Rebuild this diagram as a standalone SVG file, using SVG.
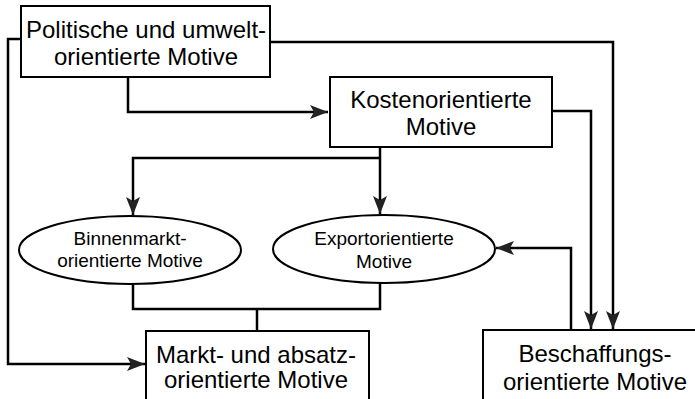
<svg xmlns="http://www.w3.org/2000/svg" width="695" height="399" viewBox="0 0 695 399">
<defs>
<marker id="arr" viewBox="0 0 18 14" refX="18" refY="7" markerWidth="18" markerHeight="14" markerUnits="userSpaceOnUse" orient="auto">
<path d="M0,0 L18,7 L0,14 L4,7 Z" fill="#222"/>
</marker>
<style>
.box{fill:#fff;stroke:#000;stroke-width:2}
.t{font-family:"Liberation Sans",Arial,sans-serif;font-size:24px;fill:#000;text-anchor:middle}
.s{font-family:"Liberation Sans",Arial,sans-serif;font-size:19px;fill:#000;text-anchor:middle}
.c{fill:none;stroke:#000;stroke-width:2.5}
.a{marker-end:url(#arr)}
</style>
</defs>
<rect width="695" height="399" fill="#fff"/>
<g id="connectors">
<path class="c a" d="M21,39 H8 V364 H145"/>
<path class="c a" d="M128,77 V112 H328"/>
<path class="c a" d="M270,42 H613 V329"/>
<path class="c a" d="M552,111 H591 V329"/>
<path class="c a" d="M380,147 V214"/>
<path class="c a" d="M380,158 H133 V215"/>
<path class="c a" d="M571,330 V248 H496"/>
<path class="c" d="M133,284 V309 H380 V283"/>
<path class="c" d="M257,309 V331"/>
</g>
<g id="politische">
<rect class="box" x="21" y="6" width="249" height="71"/>
<text class="t" x="146" y="38">Politische und umwelt-</text>
<text class="t" x="146" y="65">orientierte Motive</text>
</g>
<g id="kosten">
<rect class="box" x="330" y="77" width="222" height="70"/>
<text class="t" x="441" y="108">Kostenorientierte</text>
<text class="t" x="441" y="135">Motive</text>
</g>
<g id="binnen">
<ellipse class="box" cx="130" cy="250" rx="111" ry="34"/>
<text class="s" x="130" y="245">Binnenmarkt-</text>
<text class="s" x="130" y="267">orientierte Motive</text>
</g>
<g id="export">
<ellipse class="box" cx="384" cy="249" rx="111" ry="34"/>
<text class="s" x="384" y="245">Exportorientierte</text>
<text class="s" x="384" y="268">Motive</text>
</g>
<g id="markt">
<rect class="box" x="146" y="331" width="223" height="80"/>
<text class="t" x="256" y="363">Markt- und absatz-</text>
<text class="t" x="256" y="388">orientierte Motive</text>
</g>
<g id="beschaffung">
<rect class="box" x="483" y="330" width="230" height="80"/>
<text class="t" x="595" y="362">Beschaffungs-</text>
<text class="t" x="595" y="390">orientierte Motive</text>
</g>
</svg>
